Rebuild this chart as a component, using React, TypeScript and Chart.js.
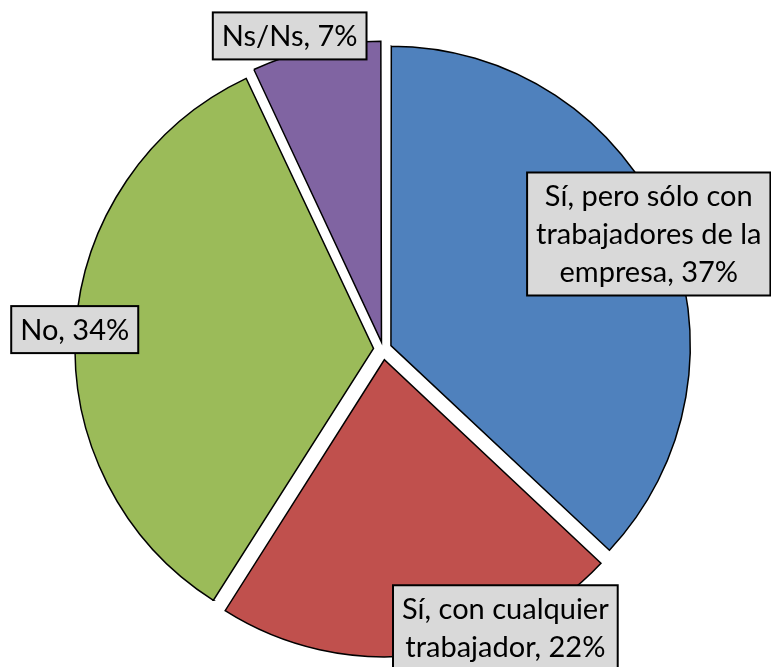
import React, { useEffect, useRef } from "react";
import { Chart, registerables } from "chart.js";

Chart.register(...registerables);

const categories = [
  "Sí, pero sólo con trabajadores de la empresa",
  "Sí, con cualquier trabajador",
  "No",
  "Ns/Ns",
];
const values = [37, 22, 34, 7];
const labelLines = [
  ["Sí, pero sólo con", "trabajadores de la", "empresa, 37%"],
  ["Sí, con cualquier", "trabajador, 22%"],
  ["No, 34%"],
  ["Ns/Ns, 7%"],
];
const colors = ["#4F81BD", "#C0504D", "#9BBB59", "#8064A2"];

// label placement relative to slice (radius factor, angular shift in degrees)
const labelRadiusFactor = [0.975, 1.025, 1.04, 1.1];
const labelAngleShift = [0, -16.5, 0, -4];

const EXPLODE = 11; // px translation of each slice
const FONT = "29px Lato";
const LINE_H = 38;
const PAD_X = 9;

const total = values.reduce((a, b) => a + b, 0);

const labelPlugin = {
  id: "boxLabels",
  afterDatasetsDraw(chart: any) {
    const ctx = chart.ctx as CanvasRenderingContext2D;
    const meta = chart.getDatasetMeta(0);
    ctx.save();
    ctx.font = FONT;
    meta.data.forEach((arc: any, i: number) => {
      const mid = (arc.startAngle + arc.endAngle) / 2 + (labelAngleShift[i] * Math.PI) / 180;
      const r = arc.outerRadius * labelRadiusFactor[i];
      const cx = arc.x + Math.cos(mid) * r;
      const cy = arc.y + Math.sin(mid) * r;
      const lines = labelLines[i];
      const w = Math.max(...lines.map((l) => ctx.measureText(l).width)) + PAD_X * 2;
      const h = lines.length * LINE_H + 9;
      const left = cx - w / 2;
      const top = cy - h / 2;
      ctx.fillStyle = "#D9D9D9";
      ctx.fillRect(left, top, w, h);
      ctx.lineWidth = 2;
      ctx.strokeStyle = "#000";
      ctx.strokeRect(left, top, w, h);
      ctx.fillStyle = "#000";
      ctx.textAlign = "center";
      ctx.textBaseline = "alphabetic";
      lines.forEach((l, j) => {
        ctx.fillText(l, cx, top + 34 + j * LINE_H);
      });
    });
    ctx.restore();
  },
};

export default function App() {
  const ref = useRef<HTMLCanvasElement>(null);
  useEffect(() => {
    if (!ref.current) return;
    const chart = new Chart(ref.current, {
      type: "pie",
      data: {
        labels: categories,
        datasets: [
          {
            data: values,
            backgroundColor: colors,
            borderColor: "#000",
            borderWidth: 1.5,
            borderJoinStyle: "miter",
            radius: 297,
            offset: (c: any) => {
              const circ = (values[c.dataIndex] / total) * Math.PI * 2;
              const fix = 1 - Math.sin(Math.min(Math.PI, circ));
              return (4 * EXPLODE) / (1 + fix);
            },
          } as any,
        ],
      },
      options: {
        responsive: false,
        animation: false,
        layout: { padding: { top: 31, right: 5, left: 0, bottom: 0 } },
        plugins: {
          legend: { display: false },
          tooltip: { enabled: false },
        },
      },
      plugins: [labelPlugin],
    });
    return () => chart.destroy();
  }, []);
  return (
    <div style={{ position: "fixed", left: 0, top: 0, width: 771, height: 667, background: "#fff" }}>
      <canvas ref={ref} width={771} height={667} style={{ display: "block" }} />
    </div>
  );
}
